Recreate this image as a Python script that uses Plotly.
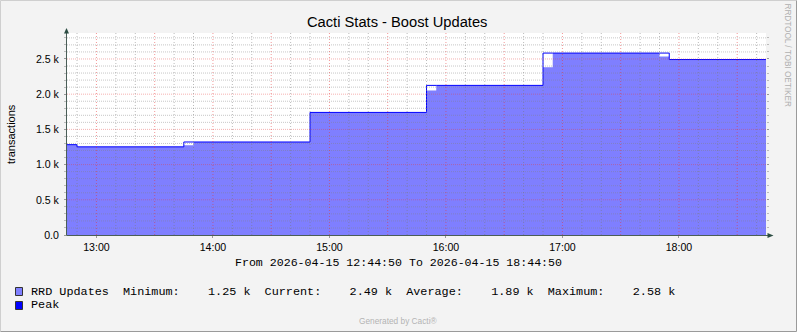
import plotly.graph_objects as go
import datetime as _dt

# ---------------- data ----------------
DATE = "2026-04-15"
step_times = ["12:44:50", "12:50:00", "13:45:00", "13:50:00", "14:50:00", "15:50:00",
              "15:55:00", "16:50:00", "16:55:00", "17:50:00", "17:55:00", "18:44:50"]
rrd_updates = [1283, 1252, 1273, 1321, 1741, 2054, 2125, 2381, 2584, 2537, 2492, 2492]
peak = [1283, 1252, 1321, 1321, 1741, 2125, 2125, 2584, 2584, 2584, 2492, 2492]

y_tick_vals = [0, 500, 1000, 1500, 2000, 2500]
y_tick_text = ["0.0", "0.5 k", "1.0 k", "1.5 k", "2.0 k", "2.5 k"]
x_tick_labels = ["13:00", "14:00", "15:00", "16:00", "17:00", "18:00"]
x_start = DATE + " 12:44:50"
x_end = DATE + " 18:44:50"

legend_line1 = "RRD Updates  Minimum:    1.25 k  Current:    2.49 k  Average:    1.89 k  Maximum:    2.58 k"
legend_line2 = "Peak"
period_text = "From 2026-04-15 12:44:50 To 2026-04-15 18:44:50"

# ---------------- layout constants ----------------
W, H = 797, 332
L, R, T, B = 67, 31, 33, 97
PW, PH = W - L - R, H - T - B
Y_MAX = 2869

FILL = "#7F7FFF"
PEAK = "#0000FF"
AXIS = "#4A5E57"
ARROW = "#2C4D43"


def px(x):
    return (x - L) / PW


def py(y):
    return (H - B - y) / PH


times = [DATE + " " + t for t in step_times]

fig = go.Figure()
fig.add_trace(go.Scatter(x=times, y=rrd_updates, mode="lines", line_shape="hv",
                         line=dict(width=0, color=FILL), fill="tozeroy", fillcolor=FILL,
                         name="RRD Updates", hoverinfo="skip"))
fig.add_trace(go.Scatter(x=times, y=peak, mode="lines", line_shape="hv",
                         line=dict(width=1, color=PEAK), name="Peak", hoverinfo="skip"))

shapes = []
# grid lines (drawn above the data, like rrdtool)
MINOR_H = "rgba(130,130,130,0.45)"
MAJOR_H = "rgba(230,60,60,0.40)"
MINOR_V = "rgba(120,120,120,0.50)"
MAJOR_V = "rgba(230,50,50,0.50)"
for v in range(100, Y_MAX, 100):
    col = MAJOR_H if v % 500 == 0 else MINOR_H
    shapes.append(dict(type="line", xref="paper", yref="y", x0=0, x1=1, y0=v, y1=v,
                       line=dict(color=col, width=1, dash="1px,1px"), layer="above"))
t0 = _dt.datetime(2026, 4, 15, 12, 50)
tend = _dt.datetime(2026, 4, 15, 18, 44, 50)
t = t0
while t < tend:
    col = MAJOR_V if t.minute % 30 == 0 else MINOR_V
    s = t.strftime("%Y-%m-%d %H:%M:%S")
    shapes.append(dict(type="line", xref="x", yref="paper", x0=s, x1=s, y0=0, y1=1,
                       line=dict(color=col, width=1, dash="1px,2px"), layer="above"))
    t += _dt.timedelta(minutes=10)

# axes lines + arrows
shapes.append(dict(type="line", xref="paper", yref="paper", x0=px(66.5), x1=px(66.5),
                   y0=py(235.5), y1=py(31), line=dict(color=AXIS, width=1), layer="above"))
shapes.append(dict(type="line", xref="paper", yref="paper", x0=px(66.5), x1=px(768),
                   y0=py(235.5), y1=py(235.5), line=dict(color=AXIS, width=1), layer="above"))
shapes.append(dict(type="path", xref="paper", yref="paper",
                   path=f"M {px(66.5)} {py(28)} L {px(64)} {py(33.5)} L {px(69)} {py(33.5)} Z",
                   fillcolor=ARROW, line=dict(width=0), layer="above"))
shapes.append(dict(type="path", xref="paper", yref="paper",
                   path=f"M {px(773.5)} {py(235.5)} L {px(767.5)} {py(233)} L {px(767.5)} {py(238)} Z",
                   fillcolor=ARROW, line=dict(width=0), layer="above"))

# legend boxes
shapes.append(dict(type="rect", xref="paper", yref="paper", x0=px(15.5), x1=px(22.5),
                   y0=py(287.5), y1=py(295.5), fillcolor=FILL, line=dict(color="#333333", width=1)))
shapes.append(dict(type="rect", xref="paper", yref="paper", x0=px(15.5), x1=px(22.5),
                   y0=py(301.5), y1=py(309.5), fillcolor=PEAK, line=dict(color="#333333", width=1)))

# image frame
shapes.append(dict(type="path", xref="paper", yref="paper",
                   path=f"M {px(0.5)} {py(331.5)} L {px(0.5)} {py(0.5)} L {px(796.5)} {py(0.5)}",
                   line=dict(color="#CFCFCF", width=1)))
shapes.append(dict(type="path", xref="paper", yref="paper",
                   path=f"M {px(0.5)} {py(331.5)} L {px(796.5)} {py(331.5)} L {px(796.5)} {py(0.5)}",
                   line=dict(color="#9A9A9A", width=1)))

nb = lambda s: s.replace(" ", "\u00a0")
ann = []
ann.append(dict(text="Cacti Stats - Boost Updates", x=px(397), y=py(22.5), xref="paper", yref="paper",
                showarrow=False, xanchor="center", yanchor="middle",
                font=dict(family="Liberation Sans", size=14.7, color="#000000")))
ann.append(dict(text="transactions", x=px(11), y=py(134), xref="paper", yref="paper",
                showarrow=False, xanchor="center", yanchor="middle", textangle=-90,
                font=dict(family="Liberation Sans", size=11, color="#000000")))
ann.append(dict(text=nb(period_text), x=px(398.5), y=py(262.5), xref="paper", yref="paper",
                showarrow=False, xanchor="center", yanchor="middle",
                font=dict(family="Liberation Mono", size=11.6, color="#000000")))
ann.append(dict(text=nb(legend_line1), x=px(29), y=py(291.8), xref="paper", yref="paper",
                showarrow=False, xanchor="left", yanchor="middle",
                font=dict(family="Liberation Mono", size=11.8, color="#000000")))
ann.append(dict(text=nb(legend_line2), x=px(29), y=py(305), xref="paper", yref="paper",
                showarrow=False, xanchor="left", yanchor="middle",
                font=dict(family="Liberation Mono", size=11.8, color="#000000")))
ann.append(dict(text="Generated by Cacti®", x=px(398.3), y=py(321), xref="paper", yref="paper",
                showarrow=False, xanchor="center", yanchor="middle",
                font=dict(family="Liberation Sans", size=8.3, color="#B4B4B4")))
ann.append(dict(text="RRDTOOL / TOBI OETIKER", x=px(787.5), y=py(56), xref="paper", yref="paper",
                showarrow=False, xanchor="center", yanchor="middle", textangle=90,
                font=dict(family="Liberation Sans", size=8.2, color="#B0B0B0")))

fig.update_layout(
    width=W, height=H, margin=dict(l=L, r=R, t=T, b=B, pad=0),
    paper_bgcolor="#F3F3F3", plot_bgcolor="#FFFFFF", showlegend=False,
    shapes=shapes, annotations=ann,
    xaxis=dict(range=[x_start, x_end], type="date",
               tickvals=[DATE + " " + s for s in x_tick_labels], ticktext=x_tick_labels,
               showgrid=False, zeroline=False, showline=False,
               ticks="outside", ticklen=2, tickcolor="#999999",
               tickfont=dict(family="Liberation Sans", size=10.6, color="#000000"),
               ticklabelstandoff=0),
    yaxis=dict(range=[0, Y_MAX], tickvals=y_tick_vals, ticktext=y_tick_text,
               showgrid=False, zeroline=False, showline=False, mirror="ticks",
               ticks="outside", ticklen=2, tickcolor="#999999",
               minor=dict(dtick=100, ticks="outside", ticklen=2, tickcolor="#BBBBBB"),
               tickfont=dict(family="Liberation Sans", size=10.6, color="#000000"),
               ticklabelstandoff=3),
)

fig.write_html("out.html")
